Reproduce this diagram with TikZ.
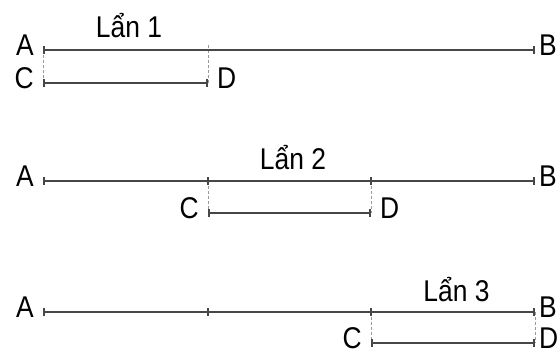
\documentclass[tikz,border=0pt]{standalone}
\usepackage{fontspec}
\setmainfont{Liberation Sans}[FakeStretch=0.88]
\usetikzlibrary{positioning,arrows.meta}

\tikzset{
  seg/.style={draw=black!72, line width=1.7pt, {Bar[width=8pt]}-{Bar[width=8pt]}},
  tick/.style={draw=black!72, line width=1.7pt},
  guide/.style={draw=black!40, line width=0.8pt, dash pattern=on 3pt off 2pt},
  lbl/.style={inner sep=0pt, font=\fontsize{30}{34}\selectfont, yshift=5pt},
  lan/.style={inner sep=0pt, font=\fontsize{30}{34}\selectfont, xshift=3.5pt},
}

\begin{document}
\begin{tikzpicture}[x=1pt,y=-1pt]
   \useasboundingbox (0,0) rectangle (558,359);
   % lan 1
   \coordinate (A1) at (43,50);
   \coordinate (M1) at (208,50);
   \coordinate (B1) at (535,50);
   \coordinate (C1) at (43,83);
   \coordinate (D1) at (208,83);
   \draw[guide] (A1) -- (C1);
   \draw[guide] ([yshift=5pt]M1) -- (D1);
   \draw[seg] (A1) -- (B1);
   \draw[seg] (C1) -- (D1);
   \node[lbl, left=9pt of A1] (a1) {A};
   \node[lbl, right=4pt of B1] (b1) {B};
   \node[lbl, left=9pt of C1] (c1) {C};
   \node[lbl, right=9pt of D1] (d1) {D};
   \path (A1) -- (M1) node[lan, midway, above=12pt] (t1) {Lẩn 1};
   % lan 2
   \coordinate (A2) at (43,181);
   \coordinate (M2) at (208,181);
   \coordinate (N2) at (371,181);
   \coordinate (B2) at (535,181);
   \coordinate (C2) at (208,213);
   \coordinate (D2) at (371,213);
   \draw[guide] (M2) -- (C2);
   \draw[guide] (N2) -- (D2);
   \draw[seg] (A2) -- (B2);
   \draw[tick] ([yshift=4pt]M2) -- ([yshift=-4pt]M2);
   \draw[tick] ([yshift=4pt]N2) -- ([yshift=-4pt]N2);
   \draw[seg] (C2) -- (D2);
   \node[lbl, left=9pt of A2] (a2) {A};
   \node[lbl, right=4pt of B2] (b2) {B};
   \node[lbl, left=9pt of C2] (c2) {C};
   \node[lbl, right=9pt of D2] (d2) {D};
   \path (M2) -- (N2) node[lan, midway, above=11pt] (t2) {Lẩn 2};
   % lan 3
   \coordinate (A3) at (43,312);
   \coordinate (M3) at (208,312);
   \coordinate (N3) at (371,312);
   \coordinate (B3) at (535,312);
   \coordinate (C3) at (371,343);
   \coordinate (D3) at (535,343);
   \draw[guide] (N3) -- (C3);
   \draw[guide] (B3) -- (D3);
   \draw[seg] (A3) -- (B3);
   \draw[tick] ([yshift=4pt]M3) -- ([yshift=-4pt]M3);
   \draw[tick] ([yshift=4pt]N3) -- ([yshift=-4pt]N3);
   \draw[seg] (C3) -- (D3);
   \node[lbl, left=9pt of A3] (a3) {A};
   \node[lbl, right=4pt of B3] (b3) {B};
   \node[lbl, left=9pt of C3] (c3) {C};
   \node[lbl, right=4pt of D3] (d3) {D};
   \path (N3) -- (B3) node[lan, midway, above=10pt] (t3) {Lẩn 3};
\end{tikzpicture}
\end{document}
